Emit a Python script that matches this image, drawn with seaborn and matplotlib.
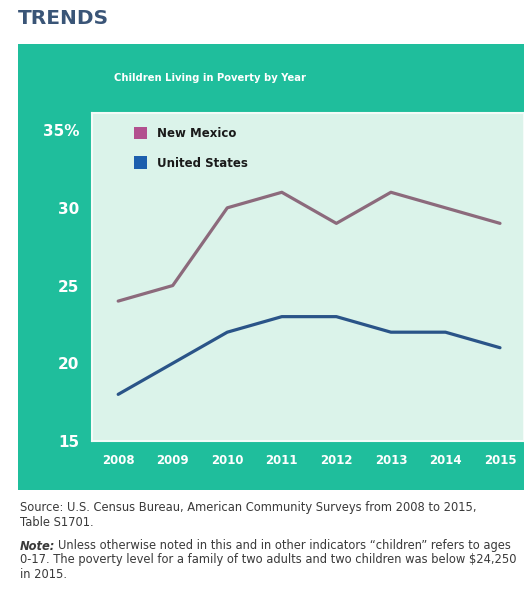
import matplotlib
matplotlib.use("Agg")
import matplotlib.pyplot as plt
from matplotlib.patches import Rectangle, Patch
import seaborn as sns
import pandas as pd

years = [2008, 2009, 2010, 2011, 2012, 2013, 2014, 2015]
new_mexico = [24, 25, 30, 31, 29, 31, 30, 29]
united_states = [18, 20, 22, 23, 23, 22, 22, 21]
series_names = ["New Mexico", "United States"]
y_ticks = [15, 20, 25, 30, 35]
y_tick_labels = ["15", "20", "25", "30", "35%"]

df = pd.DataFrame({
    "Year": years * 2,
    "Percent": new_mexico + united_states,
    "Region": [series_names[0]] * len(years) + [series_names[1]] * len(years),
})

sns.set_theme(style="white")
plt.rcParams["font.family"] = ["DejaVu Sans"]

teal = "#1fbe9c"
plot_bg = "#dbf3ea"
line_colors = {"New Mexico": "#8c6a7c", "United States": "#2a5488"}
legend_colors = {"New Mexico": "#b2508f", "United States": "#1c5fae"}

fig = plt.figure(figsize=(5.24, 5.96), dpi=100)
W, H = 524, 596

# teal panel
fig.patches.append(Rectangle((18 / W, 1 - 490 / H), 1 - 18 / W, (490 - 44) / H,
                             transform=fig.transFigure, facecolor=teal,
                             edgecolor="none", zorder=-10))

ax = fig.add_axes([92 / W, 1 - 441 / H, 1 - 92 / W, (441 - 113) / H])
ax.set_zorder(5)
ax.set_facecolor(plot_bg)

sns.lineplot(data=df, x="Year", y="Percent", hue="Region", palette=line_colors,
             linewidth=2.3, ax=ax, legend=False)

ax.set_xlim(2007.52, 2015.44)
ax.set_ylim(15, 36.1)
ax.set_yticks(y_ticks)
ax.set_yticklabels(y_tick_labels)
ax.set_xticks(years)
ax.set_xticklabels([str(y) for y in years])
ax.tick_params(axis="y", colors="white", labelsize=11, length=0, pad=9)
ax.tick_params(axis="x", colors="white", labelsize=8.5, length=0, pad=9)
for lab in ax.get_yticklabels() + ax.get_xticklabels():
    lab.set_fontweight("bold")
ax.set_xlabel("")
ax.set_ylabel("")
for s in ax.spines.values():
    s.set_visible(True)
    s.set_color("#f4fbf8")
    s.set_linewidth(1.5)

handles = [Patch(facecolor=legend_colors[n], edgecolor="none") for n in series_names]
leg = ax.legend(handles, series_names, loc="upper left", bbox_to_anchor=(0.072, 0.99),
                frameon=False, handlelength=1.1, handleheight=1.2,
                labelspacing=1.4, handletextpad=0.9,
                prop={"weight": "bold", "size": 8.5})
for t in leg.get_texts():
    t.set_color("#1a1a1a")

fig.text(18 / W, 1 - 19 / H, "TRENDS", fontsize=14.5, fontweight="bold",
         color="#3a5577", ha="left", va="center")
fig.text(210 / W, 1 - 78 / H, "Children Living in Poverty by Year", fontsize=7.2,
         fontweight="bold", color="white", ha="center", va="center")

src_color = "#3a3a3a"
fs = 8.3
fig.text(20 / W, 1 - 508 / H,
         "Source: U.S. Census Bureau, American Community Surveys from 2008 to 2015,",
         fontsize=fs, color=src_color, ha="left", va="center")
fig.text(20 / W, 1 - 522 / H, "Table S1701.", fontsize=fs, color=src_color,
         ha="left", va="center")
note = fig.text(20 / W, 1 - 546 / H, "Note:", fontsize=fs, color=src_color,
                fontweight="bold", fontstyle="italic", ha="left", va="center")
fig.canvas.draw()
bb = note.get_window_extent()
fig.text((bb.x1 + 3) / W, 1 - 546 / H,
         "Unless otherwise noted in this and in other indicators \u201cchildren\u201d refers to ages",
         fontsize=fs, color=src_color, ha="left", va="center")
fig.text(20 / W, 1 - 560 / H,
         "0-17. The poverty level for a family of two adults and two children was below $24,250",
         fontsize=fs, color=src_color, ha="left", va="center")
fig.text(20 / W, 1 - 574 / H, "in 2015.", fontsize=fs, color=src_color,
         ha="left", va="center")

fig.savefig("out.png", dpi=100, facecolor="white")
